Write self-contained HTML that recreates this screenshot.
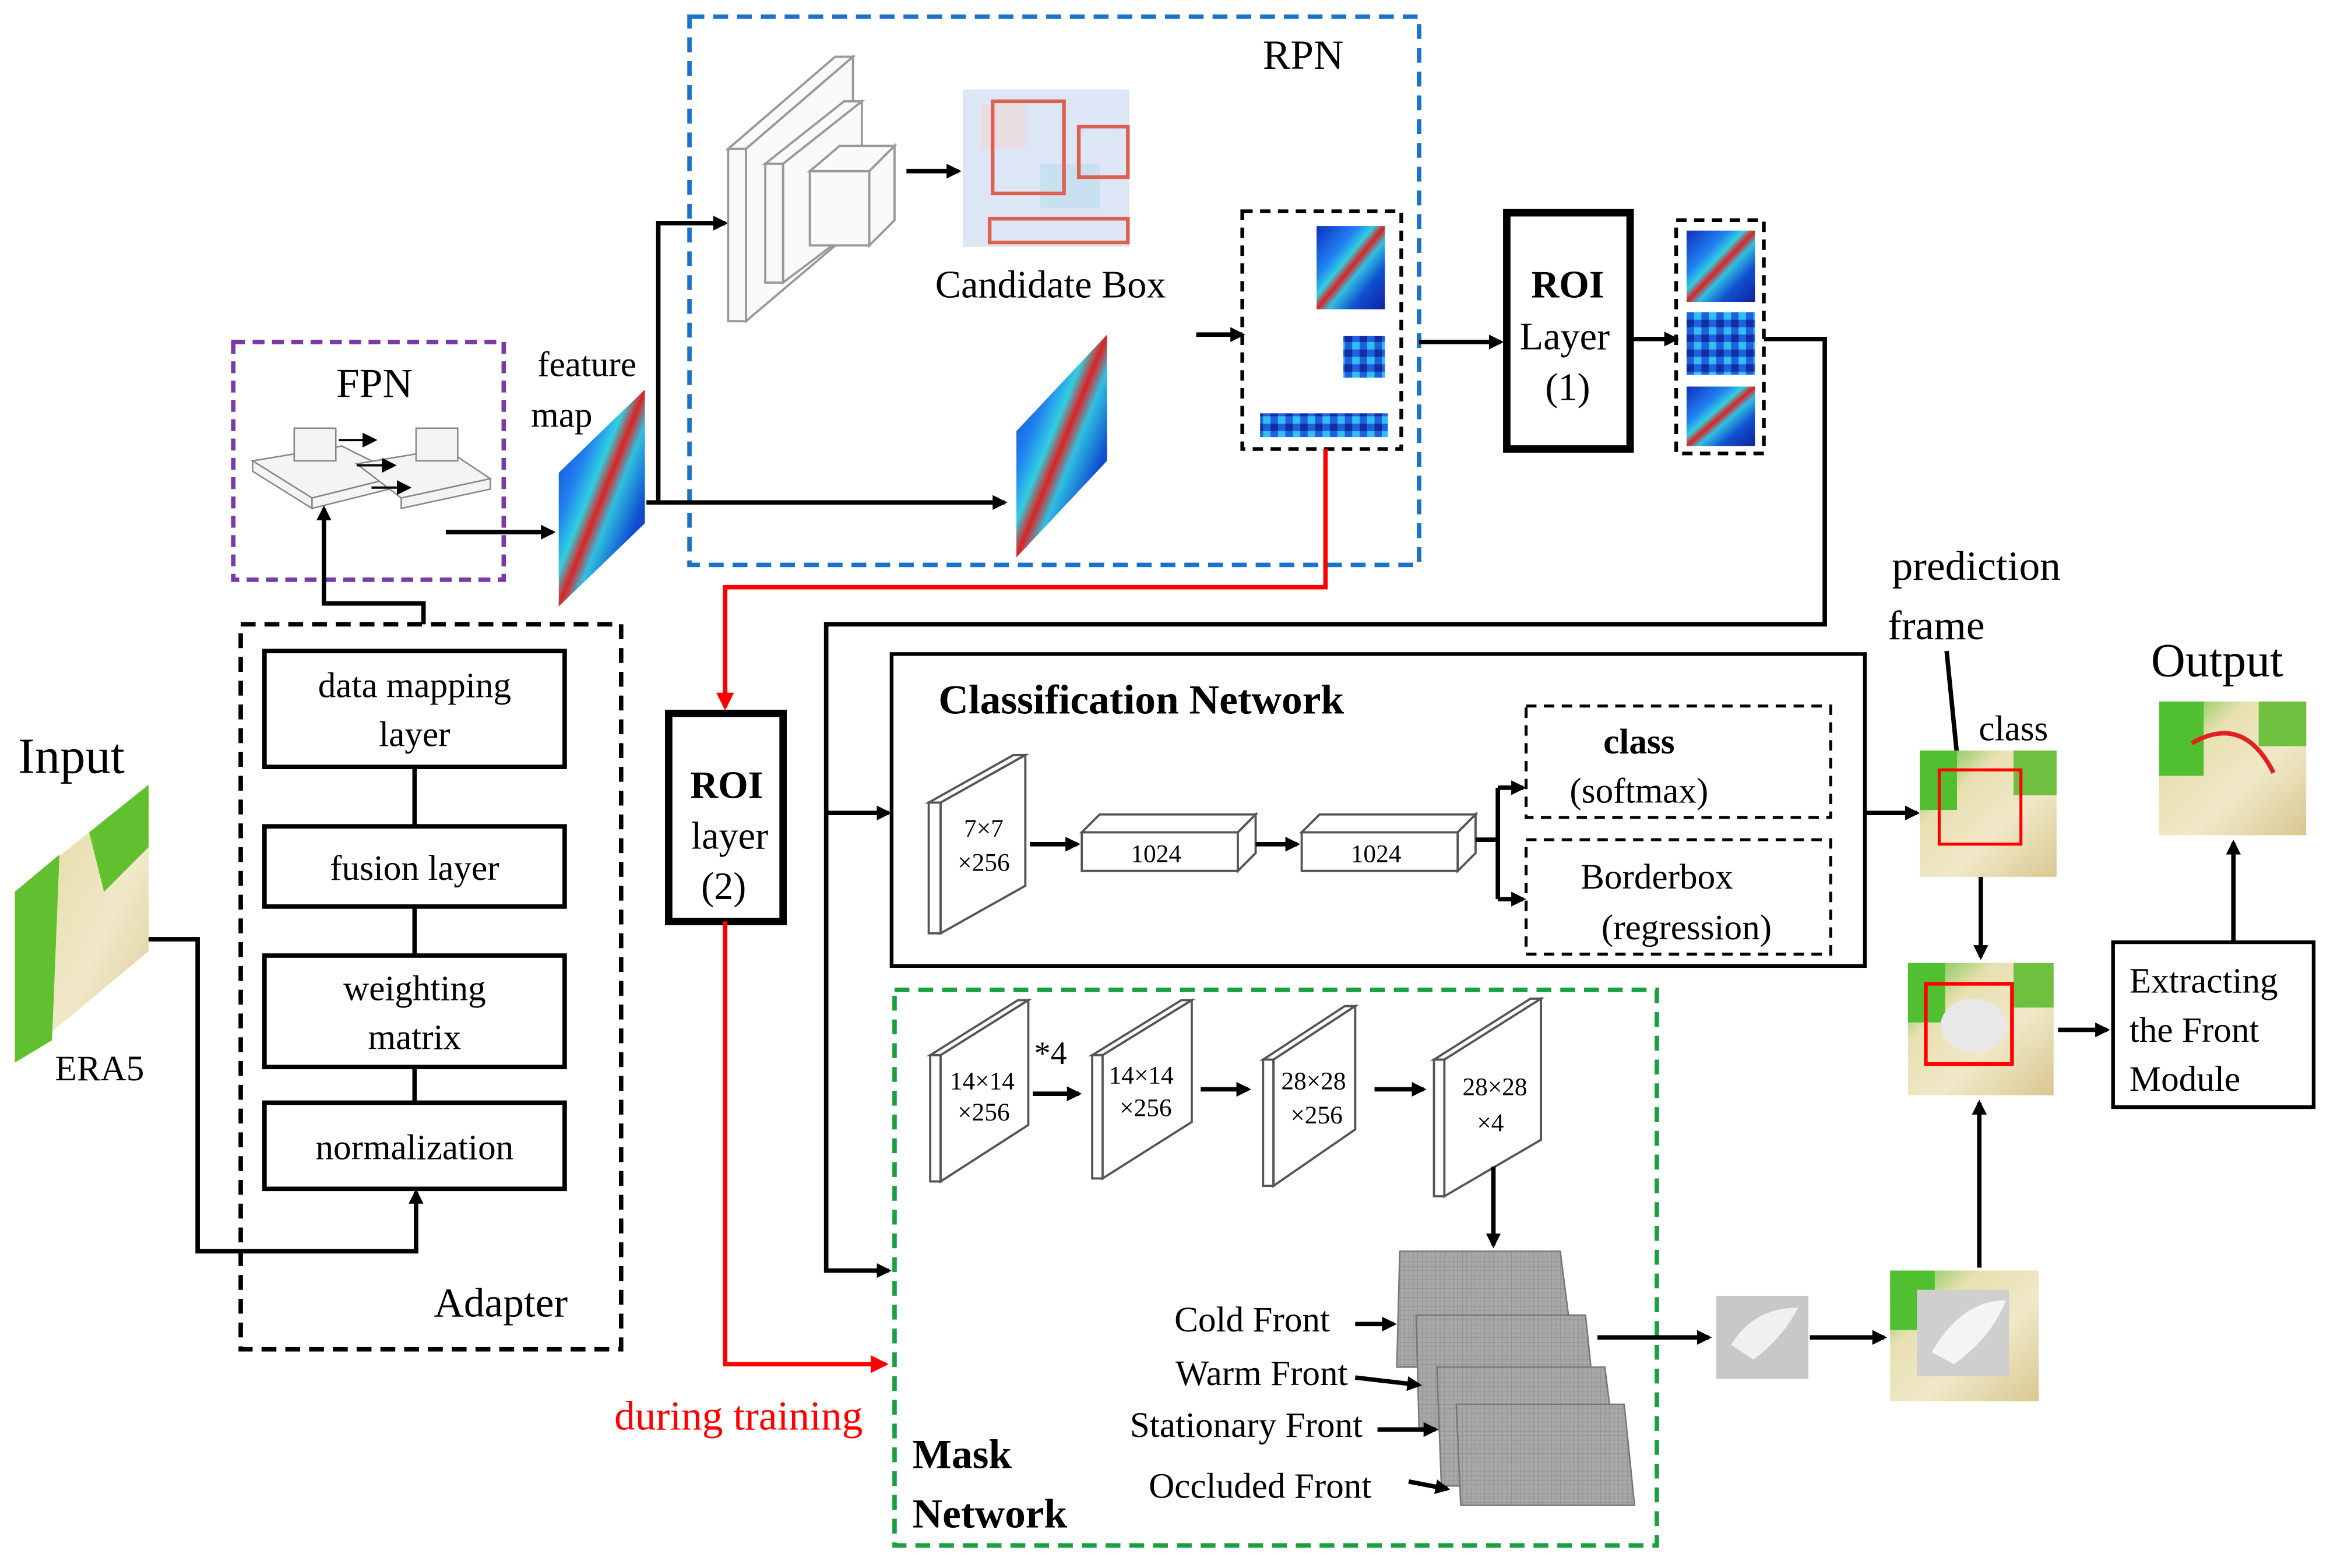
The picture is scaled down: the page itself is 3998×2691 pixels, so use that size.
<!DOCTYPE html>
<html><head><meta charset="utf-8">
<style>
html,body{margin:0;padding:0;background:#fff;}
svg{display:block;}
text{font-family:"Liberation Serif","DejaVu Serif",serif;fill:#000;}
</style></head>
<body>
<svg width="3998" height="2691" viewBox="0 0 1568 1055" xmlns="http://www.w3.org/2000/svg">
<defs>
<marker id="ah" markerWidth="10" markerHeight="10" refX="8" refY="5" orient="auto" markerUnits="userSpaceOnUse"><path d="M0,0 L10,5 L0,10 z" fill="#000"/></marker>
<marker id="ahr" markerWidth="12" markerHeight="12" refX="10" refY="6" orient="auto" markerUnits="userSpaceOnUse"><path d="M0,0 L12,6 L0,12 z" fill="#f00"/></marker>
<linearGradient id="hm" x1="0" y1="0" x2="1" y2="1">
<stop offset="0" stop-color="#1030c0"/><stop offset="0.3" stop-color="#2080f0"/><stop offset="0.42" stop-color="#30d0e0"/><stop offset="0.5" stop-color="#e02020"/><stop offset="0.58" stop-color="#30c0e0"/><stop offset="0.75" stop-color="#1050d0"/><stop offset="1" stop-color="#1020a0"/></linearGradient>
<linearGradient id="wm" x1="0" y1="0" x2="1" y2="1">
<stop offset="0" stop-color="#50c030"/><stop offset="0.3" stop-color="#e8e0b0"/><stop offset="0.6" stop-color="#f0e8c8"/><stop offset="1" stop-color="#d8c890"/></linearGradient>
<pattern id="grid" width="3" height="3" patternUnits="userSpaceOnUse"><rect width="3" height="3" fill="#a8a8a8"/><path d="M0,0H3M0,0V3" stroke="#888" stroke-width="0.5"/></pattern>
<pattern id="cells" width="10" height="10" patternUnits="userSpaceOnUse"><rect width="10" height="10" fill="#2060e0"/><rect width="5" height="5" fill="#30c0f0"/><rect x="5" y="5" width="5" height="5" fill="#1030a0"/></pattern>
</defs>

<rect x="464" y="11" width="491" height="369" fill="none" stroke="#1a73c8" stroke-width="3" stroke-dasharray="10,6"/>
<text x="877" y="46" font-size="28" text-anchor="middle">RPN</text>
<rect x="157" y="230" width="182" height="160" fill="none" stroke="#7a3aa8" stroke-width="3" stroke-dasharray="8,5"/>
<text x="252" y="267" font-size="28" text-anchor="middle">FPN</text>
<g fill="#f4f4f4" stroke="#888" stroke-width="1">
<polygon points="170,310 230,300 270,320 210,335"/><polygon points="170,310 210,335 210,342 170,317"/><polygon points="210,335 270,320 270,327 210,342"/>
<rect x="198" y="288" width="28" height="22"/>
<polygon points="240,312 300,302 330,322 270,335"/><polygon points="270,335 330,322 330,329 270,342"/>
<rect x="280" y="288" width="28" height="22"/>
</g>
<g stroke="#000" stroke-width="1.5" marker-end="url(#ah)"><line x1="228" y1="296" x2="252" y2="296"/><line x1="240" y1="313" x2="265" y2="313"/><line x1="250" y1="328" x2="275" y2="328"/></g>

<rect x="162" y="420" width="256" height="488" fill="none" stroke="#000" stroke-width="3" stroke-dasharray="10,6"/>
<g fill="#fff" stroke="#000" stroke-width="3">
<rect x="178" y="438" width="202" height="78"/>
<rect x="178" y="556" width="202" height="54"/>
<rect x="178" y="643" width="202" height="75"/>
<rect x="178" y="742" width="202" height="58"/>
</g>
<g stroke="#000" stroke-width="3"><line x1="279" y1="516" x2="279" y2="556"/><line x1="279" y1="610" x2="279" y2="643"/><line x1="279" y1="718" x2="279" y2="742"/></g>
<g font-size="24" text-anchor="middle">
<text x="279" y="469">data mapping</text><text x="279" y="502">layer</text>
<text x="279" y="592">fusion layer</text>
<text x="279" y="673">weighting</text><text x="279" y="706">matrix</text>
<text x="279" y="780">normalization</text>
</g>
<text x="337" y="886" font-size="28" text-anchor="middle">Adapter</text>
<polyline points="285,420 285,406 218,406 218,342" fill="none" stroke="#000" stroke-width="3" marker-end="url(#ah)"/>

<text x="48" y="520" font-size="34" text-anchor="middle">Input</text>
<polygon points="10,600 100,528 100,640 10,715" fill="url(#wm)"/>
<polygon points="10,600 40,575 35,700 10,715" fill="#60c030"/>
<polygon points="60,560 100,528 100,570 70,600" fill="#60c030"/>
<text x="67" y="727" font-size="24" text-anchor="middle">ERA5</text>
<polyline points="100,632 133,632 133,842 280,842 280,802" fill="none" stroke="#000" stroke-width="3" marker-end="url(#ah)"/>

<text x="395" y="253" font-size="24" text-anchor="middle">feature</text>
<text x="378" y="287" font-size="24" text-anchor="middle">map</text>
<polygon points="376,318 434,262 434,352 376,408" fill="url(#hm)"/>
<polyline points="300,358 372,358" stroke="#000" stroke-width="3" marker-end="url(#ah)"/>
<line x1="435" y1="338" x2="676" y2="338" stroke="#000" stroke-width="3" marker-end="url(#ah)"/>
<polyline points="443,338 443,150 488,150" fill="none" stroke="#000" stroke-width="3" marker-end="url(#ah)"/>

<g fill="#fafafa" stroke="#999" stroke-width="1.5">
<polygon points="490,100 562,38 574,38 502,100"/><rect x="490" y="100" width="12" height="116"/><polygon points="502,100 574,38 574,155 502,216"/>
<polygon points="515,110 568,68 580,68 527,110"/><rect x="515" y="110" width="12" height="80"/><polygon points="527,110 580,68 580,150 527,190"/>
<rect x="545" y="115" width="40" height="50"/><polygon points="545,115 565,98 602,98 585,115"/><polygon points="585,115 602,98 602,148 585,165"/>
</g>
<line x1="610" y1="115" x2="645" y2="115" stroke="#000" stroke-width="3" marker-end="url(#ah)"/>
<rect x="648" y="60" width="112" height="106" fill="#dde6f4"/>
<rect x="660" y="70" width="30" height="30" fill="#f0d8d8" opacity="0.7"/><rect x="700" y="110" width="40" height="30" fill="#c8e0f0"/>
<g fill="none" stroke="#e06050" stroke-width="2.5"><rect x="668" y="68" width="48" height="62"/><rect x="726" y="85" width="33" height="34"/><rect x="666" y="147" width="93" height="16"/></g>
<text x="707" y="200" font-size="26" text-anchor="middle">Candidate Box</text>
<polygon points="684,290 745,225 745,310 684,375" fill="url(#hm)"/>
<line x1="805" y1="225" x2="836" y2="225" stroke="#000" stroke-width="3" marker-end="url(#ah)"/>
<rect x="836" y="142" width="107" height="160" fill="none" stroke="#000" stroke-width="2.5" stroke-dasharray="7,5"/>
<rect x="886" y="152" width="46" height="56" fill="url(#hm)"/>
<rect x="904" y="226" width="28" height="28" fill="url(#cells)"/>
<rect x="848" y="278" width="86" height="16" fill="url(#cells)"/>

<line x1="955" y1="230" x2="1010" y2="230" stroke="#000" stroke-width="3" marker-end="url(#ah)"/>
<rect x="1014" y="143" width="83" height="159" fill="#fff" stroke="#000" stroke-width="5"/>
<text x="1055" y="200" font-size="26" font-weight="bold" text-anchor="middle">ROI</text>
<text x="1053" y="235" font-size="26" text-anchor="middle">Layer</text>
<text x="1055" y="269" font-size="26" text-anchor="middle">(1)</text>
<line x1="1097" y1="228" x2="1128" y2="228" stroke="#000" stroke-width="3" marker-end="url(#ah)"/>
<rect x="1128" y="148" width="59" height="157" fill="none" stroke="#000" stroke-width="2.5" stroke-dasharray="7,5"/>
<rect x="1135" y="155" width="46" height="48" fill="url(#hm)"/>
<rect x="1135" y="210" width="46" height="42" fill="url(#cells)"/>
<rect x="1135" y="260" width="46" height="40" fill="url(#hm)"/>
<polyline points="1187,228 1228,228 1228,420 556,420 556,855 598,855" fill="none" stroke="#000" stroke-width="3" marker-end="url(#ah)"/>
<line x1="556" y1="547" x2="598" y2="547" stroke="#000" stroke-width="3" marker-end="url(#ah)"/>

<polyline points="892,302 892,395 488,395 488,476" fill="none" stroke="#f00" stroke-width="3" marker-end="url(#ahr)"/>
<rect x="450" y="480" width="77" height="140" fill="#fff" stroke="#000" stroke-width="5"/>
<text x="489" y="537" font-size="26" font-weight="bold" text-anchor="middle">ROI</text>
<text x="491" y="571" font-size="26" text-anchor="middle">layer</text>
<text x="487" y="605" font-size="26" text-anchor="middle">(2)</text>
<polyline points="488,620 488,918 596,918" fill="none" stroke="#f00" stroke-width="3" marker-end="url(#ahr)"/>
<text x="497" y="962" font-size="28" style="fill:#f00" text-anchor="middle">during training</text>

<rect x="600" y="440" width="655" height="210" fill="none" stroke="#000" stroke-width="2.5"/>
<text x="768" y="480" font-size="28" font-weight="bold" text-anchor="middle">Classification Network</text>
<g fill="#fff" stroke="#555" stroke-width="1.5">
<polygon points="625,540 682,508 690,508 633,540"/><rect x="625" y="540" width="8" height="88"/><polygon points="633,540 690,508 690,596 633,628"/>
</g>
<text x="662" y="563" font-size="17" text-anchor="middle">7×7</text><text x="662" y="586" font-size="17" text-anchor="middle">×256</text>
<line x1="693" y1="568" x2="725" y2="568" stroke="#000" stroke-width="3" marker-end="url(#ah)"/>
<g fill="#fff" stroke="#555" stroke-width="1.5">
<rect x="728" y="560" width="105" height="26"/><polygon points="728,560 740,548 845,548 833,560"/><polygon points="833,560 845,548 845,574 833,586"/>
<rect x="876" y="560" width="105" height="26"/><polygon points="876,560 888,548 993,548 981,560"/><polygon points="981,560 993,548 993,574 981,586"/>
</g>
<text x="778" y="580" font-size="17" text-anchor="middle">1024</text><text x="926" y="580" font-size="17" text-anchor="middle">1024</text>
<line x1="845" y1="568" x2="873" y2="568" stroke="#000" stroke-width="3" marker-end="url(#ah)"/>
<polyline points="993,565 1008,565" stroke="#000" stroke-width="3"/>
<polyline points="1008,530 1008,605" fill="none" stroke="#000" stroke-width="3"/>
<line x1="1008" y1="530" x2="1025" y2="530" stroke="#000" stroke-width="3" marker-end="url(#ah)"/>
<line x1="1008" y1="605" x2="1025" y2="605" stroke="#000" stroke-width="3" marker-end="url(#ah)"/>
<rect x="1027" y="475" width="205" height="75" fill="none" stroke="#000" stroke-width="2" stroke-dasharray="7,5"/>
<rect x="1027" y="565" width="205" height="77" fill="none" stroke="#000" stroke-width="2" stroke-dasharray="7,5"/>
<text x="1103" y="507" font-size="24" font-weight="bold" text-anchor="middle">class</text>
<text x="1103" y="540" font-size="24" text-anchor="middle">(softmax)</text>
<text x="1115" y="598" font-size="24" text-anchor="middle">Borderbox</text>
<text x="1135" y="632" font-size="24" text-anchor="middle">(regression)</text>
<line x1="1255" y1="547" x2="1290" y2="547" stroke="#000" stroke-width="3" marker-end="url(#ah)"/>

<text x="1330" y="390" font-size="28" text-anchor="middle">prediction</text>
<text x="1303" y="430" font-size="28" text-anchor="middle">frame</text>
<line x1="1310" y1="438" x2="1318" y2="518" stroke="#000" stroke-width="3" marker-end="url(#ah)"/>
<text x="1355" y="498" font-size="24" text-anchor="middle">class</text>
<rect x="1292" y="505" width="92" height="85" fill="url(#wm)"/>
<rect x="1292" y="505" width="25" height="40" fill="#50c030"/>
<rect x="1355" y="505" width="29" height="30" fill="#70c040"/>
<rect x="1305" y="518" width="55" height="50" fill="none" stroke="#f00" stroke-width="2"/>
<line x1="1333" y1="590" x2="1333" y2="644" stroke="#000" stroke-width="3" marker-end="url(#ah)"/>
<rect x="1284" y="648" width="98" height="89" fill="url(#wm)"/>
<rect x="1284" y="648" width="25" height="40" fill="#50c030"/>
<rect x="1355" y="648" width="27" height="30" fill="#70c040"/>
<ellipse cx="1328" cy="690" rx="22" ry="18" fill="#e8e8e8"/>
<rect x="1296" y="662" width="58" height="54" fill="none" stroke="#f00" stroke-width="2.5"/>
<line x1="1385" y1="693" x2="1418" y2="693" stroke="#000" stroke-width="3" marker-end="url(#ah)"/>
<rect x="1422" y="634" width="135" height="111" fill="#fff" stroke="#000" stroke-width="2.5"/>
<text x="1433" y="668" font-size="24">Extracting</text>
<text x="1433" y="701" font-size="24">the Front</text>
<text x="1433" y="734" font-size="24">Module</text>
<line x1="1503" y1="633" x2="1503" y2="567" stroke="#000" stroke-width="3" marker-end="url(#ah)"/>
<text x="1492" y="455" font-size="32" text-anchor="middle">Output</text>
<rect x="1453" y="472" width="99" height="90" fill="url(#wm)"/>
<rect x="1453" y="472" width="30" height="50" fill="#50c030"/>
<rect x="1520" y="472" width="32" height="30" fill="#70c040"/>
<path d="M1475,500 Q1510,480 1530,520" fill="none" stroke="#e02020" stroke-width="3"/>

<rect x="602" y="666" width="513" height="374" fill="none" stroke="#1aa040" stroke-width="3" stroke-dasharray="10,6"/>
<g fill="#fff" stroke="#555" stroke-width="1.5">
<polygon points="626,710 685,673 692,673 633,710"/><rect x="626" y="710" width="7" height="85"/><polygon points="633,710 692,673 692,757 633,795"/>
<polygon points="735,710 795,673 802,673 742,710"/><rect x="735" y="710" width="7" height="83"/><polygon points="742,710 802,673 802,755 742,793"/>
<polygon points="850,713 905,677 912,677 857,713"/><rect x="850" y="713" width="7" height="85"/><polygon points="857,713 912,677 912,760 857,798"/>
<polygon points="965,713 1030,672 1037,672 972,713"/><rect x="965" y="713" width="7" height="92"/><polygon points="972,713 1037,672 1037,767 972,805"/>
</g>
<g font-size="17" text-anchor="middle">
<text x="661" y="733">14×14</text><text x="662" y="754">×256</text>
<text x="768" y="729">14×14</text><text x="771" y="751">×256</text>
<text x="884" y="733">28×28</text><text x="886" y="756">×256</text>
<text x="1006" y="737">28×28</text><text x="1003" y="761">×4</text>
</g>
<text x="696" y="716" font-size="22">*4</text>
<g stroke="#000" stroke-width="3" marker-end="url(#ah)">
<line x1="695" y1="736" x2="726" y2="736"/><line x1="808" y1="733" x2="840" y2="733"/><line x1="925" y1="733" x2="958" y2="733"/>
<line x1="1005" y1="785" x2="1005" y2="838"/>
</g>
<g fill="url(#grid)" stroke="#777" stroke-width="1">
<polygon points="942,842 1050,842 1060,920 940,920"/>
<polygon points="953,885 1067,885 1075,962 955,962"/>
<polygon points="967,920 1080,920 1090,1000 970,1000"/>
<polygon points="980,945 1093,945 1100,1013 983,1013"/>
</g>
<g font-size="24" text-anchor="end">
<text x="895" y="896">Cold Front</text><text x="907" y="932">Warm Front</text>
<text x="917" y="967">Stationary Front</text><text x="923" y="1008">Occluded Front</text>
</g>
<g stroke="#000" stroke-width="3" marker-end="url(#ah)">
<line x1="912" y1="891" x2="938" y2="891"/><line x1="912" y1="927" x2="955" y2="932"/>
<line x1="927" y1="962" x2="966" y2="962"/><line x1="948" y1="997" x2="974" y2="1002"/>
<line x1="1075" y1="900" x2="1150" y2="900"/><line x1="1218" y1="900" x2="1268" y2="900"/>
<line x1="1332" y1="853" x2="1332" y2="742"/>
</g>
<text x="614" y="988" font-size="28" font-weight="bold">Mask</text>
<text x="614" y="1028" font-size="28" font-weight="bold">Network</text>
<rect x="1155" y="872" width="62" height="56" fill="#c8c8c8"/>
<path d="M1165,905 Q1180,880 1210,880 Q1200,900 1180,915z" fill="#f0f0f0"/>
<rect x="1272" y="855" width="100" height="88" fill="url(#wm)"/>
<rect x="1272" y="855" width="30" height="40" fill="#50c030"/>
<rect x="1290" y="868" width="62" height="58" fill="#cfcfcf"/>
<path d="M1300,910 Q1320,875 1350,875 Q1340,900 1315,918z" fill="#f4f4f4"/>
</svg>
</body></html>
